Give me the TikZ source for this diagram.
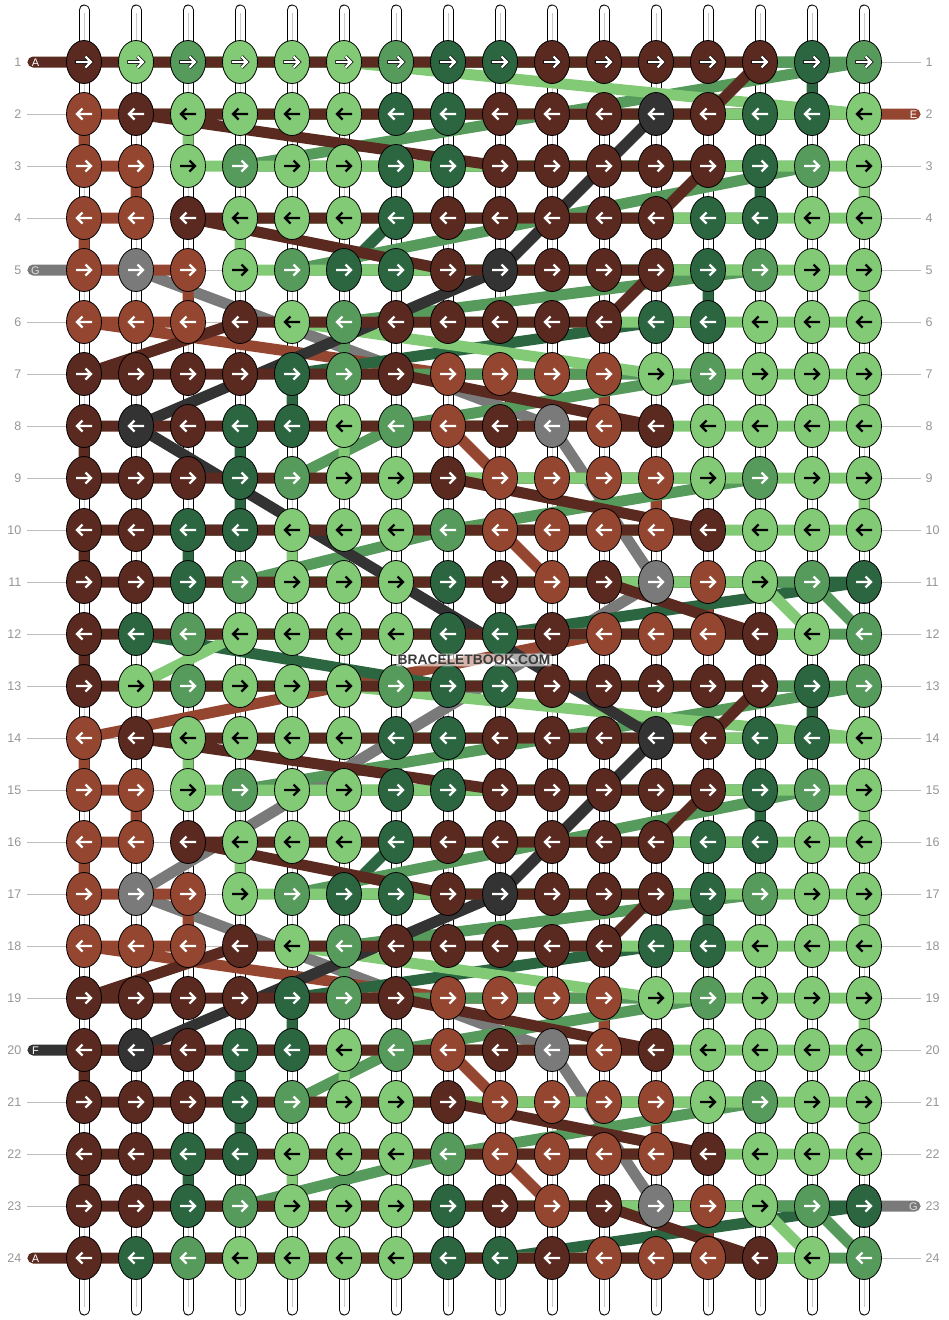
\documentclass[tikz,border=0pt]{standalone}
\usepackage{fontspec}
\setmainfont{Liberation Sans}
\usetikzlibrary{shapes.geometric}
\pgfdeclarelayer{base}
\pgfdeclarelayer{str}
\pgfsetlayers{base,str,main}
\definecolor{cD}{HTML}{5A2920}
\definecolor{cR}{HTML}{954631}
\definecolor{cL}{HTML}{82CA75}
\definecolor{cM}{HTML}{569A5C}
\definecolor{cG}{HTML}{2B6641}
\definecolor{cK}{HTML}{333333}
\definecolor{cY}{HTML}{7A7A7A}
\definecolor{numgray}{HTML}{959595}
\definecolor{guidegray}{HTML}{BDBDBD}
\definecolor{strcenter}{HTML}{C8C8C8}
\definecolor{wmdark}{HTML}{3A3A3A}
\def\acD{white}\def\acR{white}\def\acL{black}\def\acM{white}\def\acG{white}\def\acK{white}\def\acY{white}
\expandafter\def\csname rd1\endcsname{D,L,M,L,L,L,M,G,G,D,D,D,D,D,G,M}
\expandafter\def\csname rd2\endcsname{R,D,L,L,L,L,G,G,D,D,D,K,D,G,G,L}
\expandafter\def\csname rd3\endcsname{R,R,L,M,L,L,G,G,D,D,D,D,D,G,M,L}
\expandafter\def\csname rd4\endcsname{R,R,D,L,L,L,G,D,D,D,D,D,G,G,L,L}
\expandafter\def\csname rd5\endcsname{R,Y,R,L,M,G,G,D,K,D,D,D,G,M,L,L}
\expandafter\def\csname rd6\endcsname{R,R,R,D,L,M,D,D,D,D,D,G,G,L,L,L}
\expandafter\def\csname rd7\endcsname{D,D,D,D,G,M,D,R,R,R,R,L,M,L,L,L}
\expandafter\def\csname rd8\endcsname{D,K,D,G,G,L,M,R,D,Y,R,D,L,L,L,L}
\expandafter\def\csname rd9\endcsname{D,D,D,G,M,L,L,D,R,R,R,R,L,M,L,L}
\expandafter\def\csname rd10\endcsname{D,D,G,G,L,L,L,M,R,R,R,R,D,L,L,L}
\expandafter\def\csname rd11\endcsname{D,D,G,M,L,L,L,G,D,R,D,Y,R,L,M,G}
\expandafter\def\csname rd12\endcsname{D,G,M,L,L,L,L,G,G,D,R,R,R,D,L,M}
\begin{document}
\begin{tikzpicture}[x=1pt,y=-1pt,
  knot/.style={ellipse, draw=black, line width=0.8pt, minimum width=35pt, minimum height=43pt, inner sep=0pt},
  thread/.style={line width=11pt, line cap=round, line join=round},
  arr/.style={line width=2.4pt, line cap=butt, line join=miter},
  guide/.style={draw=guidegray, line width=1pt},
  num/.style={text=numgray, inner sep=0pt, font=\fontsize{12.5}{12.5}\selectfont},
  endlabel/.style={text=white, inner sep=0pt, font=\fontsize{11}{11}\selectfont},
  wmtext/.style={inner xsep=1.5pt, inner ysep=1.5pt, font=\fontsize{13.8}{14}\selectfont\bfseries,
    fill=white, fill opacity=0.6, text opacity=1, rounded corners=2pt}]
\useasboundingbox (0,0) rectangle (948,1320);
% base strings and guide lines
\begin{pgfonlayer}{base}
\foreach \c in {1,...,16}{
  \pgfmathsetmacro{\xx}{32+52*\c}
  \coordinate (st-\c) at (\xx,10);
  \coordinate (sb-\c) at (\xx,1310);
  \draw[line width=11pt, line cap=round, black] (st-\c) -- (sb-\c);
  \draw[line width=9pt, line cap=round, white] (st-\c) -- (sb-\c);
  \draw[line width=1pt, strcenter] ([yshift=-3pt]st-\c) -- ([yshift=3pt]sb-\c);
}
\foreach \r in {1,...,24}{
  \pgfmathsetmacro{\yy}{10+52*\r}
  \coordinate (gl-\r) at (27,\yy);
  \coordinate (gr-\r) at (921,\yy);
  \draw[guide] (gl-\r) -- (gr-\r);
}
\end{pgfonlayer}
% row numbers
\foreach \r in {1,...,24}{
  \pgfmathsetmacro{\yy}{10+52*\r}
  \node[num, anchor=east] (nl-\r) at (21.5,\yy) {\r};
  \node[num, anchor=west] (nr-\r) at (925.5,\yy) {\r};
}
% knots
\foreach \r in {1,...,24}{
  \pgfmathtruncatemacro{\p}{mod(\r-1,12)+1}
  \pgfmathtruncatemacro{\dir}{ifthenelse(isodd(\r),1,-1)}
  \expandafter\let\expandafter\curlist\csname rd\p\endcsname
  \foreach \k [count=\c] in \curlist {
    \node[knot, fill=c\k] (k-\r-\c) at ({32+52*\c},{10+52*\r}) {};
    \edef\acol{\csname ac\k\endcsname}
    \ifnum\r=1 \def\acol{white}\fi
    \begin{scope}[shift={(k-\r-\c.center)}, xscale=\dir]
      \ifnum\r=1 \draw[arr, line width=3.8pt, black] (-8.6,0) -- (6.5,0) (1.5,-5.5) -- (7,0) -- (1.5,5.5);\fi
      \draw[arr, draw=\acol] (-8,0) -- (6.5,0) (1.5,-5.5) -- (7,0) -- (1.5,5.5);
    \end{scope}
  }
}
% string ends
\coordinate (eA1) at (33,62);
\coordinate (eA24) at (33,1258);
\coordinate (eG5) at (33,270);
\coordinate (eF20) at (33,1050);
\coordinate (eE2) at (915,114);
\coordinate (eG23) at (915,1206);
% threads
\begin{pgfonlayer}{str}
\draw[thread,cY] (eG5) -- (k-5-2.center) -- (k-8-10.center) -- (k-11-12.center) -- (k-17-2.center) -- (k-20-10.center) -- (k-23-12.center) -- (eG23);
\draw[thread,cR] (eE2) -- (k-2-1.center) -- (k-3-1.center) -- (k-3-2.center) -- (k-4-2.center) -- (k-4-1.center) -- (k-5-1.center) -- (k-5-3.center) -- (k-6-3.center) -- (k-6-1.center) -- (k-7-8.center) -- (k-7-11.center) -- (k-8-11.center) -- (k-8-8.center) -- (k-9-9.center) -- (k-9-12.center) -- (k-10-12.center) -- (k-10-9.center) -- (k-11-10.center) -- (k-11-13.center) -- (k-12-13.center) -- (k-12-11.center) -- (k-14-1.center) -- (k-15-1.center) -- (k-15-2.center) -- (k-16-2.center) -- (k-16-1.center) -- (k-17-1.center) -- (k-17-3.center) -- (k-18-3.center) -- (k-18-1.center) -- (k-19-8.center) -- (k-19-11.center) -- (k-20-11.center) -- (k-20-8.center) -- (k-21-9.center) -- (k-21-12.center) -- (k-22-12.center) -- (k-22-9.center) -- (k-23-10.center) -- (k-23-13.center) -- (k-24-13.center) -- (k-24-11.center);
\draw[thread,cG] (k-1-8.center) -- (k-1-15.center) -- (k-2-15.center) -- (k-2-7.center) -- (k-3-7.center) -- (k-3-14.center) -- (k-4-14.center) -- (k-4-7.center) -- (k-5-6.center) -- (k-5-13.center) -- (k-6-13.center) -- (k-6-12.center) -- (k-7-5.center) -- (k-8-5.center) -- (k-8-4.center) -- (k-9-4.center) -- (k-10-4.center) -- (k-10-3.center) -- (k-11-3.center) -- (k-11-16.center) -- (k-12-9.center) -- (k-12-2.center) -- (k-13-8.center) -- (k-13-15.center) -- (k-14-15.center) -- (k-14-7.center) -- (k-15-7.center) -- (k-15-14.center) -- (k-16-14.center) -- (k-16-7.center) -- (k-17-6.center) -- (k-17-13.center) -- (k-18-13.center) -- (k-18-12.center) -- (k-19-5.center) -- (k-20-5.center) -- (k-20-4.center) -- (k-21-4.center) -- (k-22-4.center) -- (k-22-3.center) -- (k-23-3.center) -- (k-23-16.center) -- (k-24-9.center) -- (k-24-2.center);
\draw[thread,cM] (k-1-3.center) -- (k-1-16.center) -- (k-3-4.center) -- (k-3-15.center) -- (k-5-5.center) -- (k-5-14.center) -- (k-6-6.center) -- (k-7-6.center) -- (k-7-13.center) -- (k-8-7.center) -- (k-9-5.center) -- (k-9-14.center) -- (k-10-8.center) -- (k-11-4.center) -- (k-11-15.center) -- (k-12-16.center) -- (k-12-3.center) -- (k-13-3.center) -- (k-13-16.center) -- (k-15-4.center) -- (k-15-15.center) -- (k-17-5.center) -- (k-17-14.center) -- (k-18-6.center) -- (k-19-6.center) -- (k-19-13.center) -- (k-20-7.center) -- (k-21-5.center) -- (k-21-14.center) -- (k-22-8.center) -- (k-23-4.center) -- (k-23-15.center) -- (k-24-16.center) -- (k-24-3.center);
\draw[thread,cL] (k-1-2.center) -- (k-1-6.center) -- (k-2-16.center) -- (k-2-3.center) -- (k-3-3.center) -- (k-3-16.center) -- (k-4-16.center) -- (k-4-4.center) -- (k-5-4.center) -- (k-5-16.center) -- (k-6-16.center) -- (k-6-5.center) -- (k-7-12.center) -- (k-7-16.center) -- (k-8-16.center) -- (k-8-6.center) -- (k-9-6.center) -- (k-9-16.center) -- (k-10-16.center) -- (k-10-5.center) -- (k-11-5.center) -- (k-11-14.center) -- (k-12-15.center) -- (k-12-4.center) -- (k-13-2.center) -- (k-13-6.center) -- (k-14-16.center) -- (k-14-3.center) -- (k-15-3.center) -- (k-15-16.center) -- (k-16-16.center) -- (k-16-4.center) -- (k-17-4.center) -- (k-17-16.center) -- (k-18-16.center) -- (k-18-5.center) -- (k-19-12.center) -- (k-19-16.center) -- (k-20-16.center) -- (k-20-6.center) -- (k-21-6.center) -- (k-21-16.center) -- (k-22-16.center) -- (k-22-5.center) -- (k-23-5.center) -- (k-23-14.center) -- (k-24-15.center) -- (k-24-4.center);
\draw[thread,cK] (k-2-12.center) -- (k-5-9.center) -- (k-8-2.center) -- (k-14-12.center) -- (k-17-9.center) -- (k-20-2.center) -- (eF20);
\draw[thread,cD] (eA1) -- (k-1-14.center) -- (k-2-13.center) -- (k-2-2.center) -- (k-3-9.center) -- (k-3-13.center) -- (k-4-12.center) -- (k-4-3.center) -- (k-5-8.center) -- (k-5-12.center) -- (k-6-11.center) -- (k-6-4.center) -- (k-7-1.center) -- (k-7-7.center) -- (k-8-12.center) -- (k-8-1.center) -- (k-9-1.center) -- (k-9-8.center) -- (k-10-13.center) -- (k-10-1.center) -- (k-11-1.center) -- (k-11-11.center) -- (k-12-14.center) -- (k-12-1.center) -- (k-13-1.center) -- (k-13-14.center) -- (k-14-13.center) -- (k-14-2.center) -- (k-15-9.center) -- (k-15-13.center) -- (k-16-12.center) -- (k-16-3.center) -- (k-17-8.center) -- (k-17-12.center) -- (k-18-11.center) -- (k-18-4.center) -- (k-19-1.center) -- (k-19-7.center) -- (k-20-12.center) -- (k-20-1.center) -- (k-21-1.center) -- (k-21-8.center) -- (k-22-13.center) -- (k-22-1.center) -- (k-23-1.center) -- (k-23-11.center) -- (k-24-14.center) -- (k-24-1.center) -- (eA24);
\end{pgfonlayer}
% end labels
\node[endlabel] (lA1) at (35.5,62.5) {A};
\node[endlabel] (lA24) at (35.5,1258.5) {A};
\node[endlabel, text=white!88!black] (lG5) at (35.5,270.5) {G};
\node[endlabel] (lF20) at (35.5,1050.5) {F};
\node[endlabel] (lE2) at (913.5,114.5) {E};
\node[endlabel, text=white!88!black] (lG23) at (913.5,1206.5) {G};
% watermark
\node[wmtext, text=wmdark] (wm) at (474,660) {BRACELETBOOK.COM};
\end{tikzpicture}
\end{document}
